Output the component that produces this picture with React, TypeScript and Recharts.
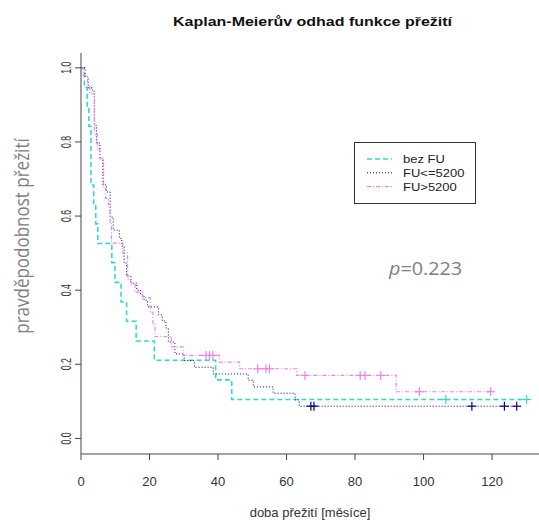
import { ComposedChart, Line, Scatter, XAxis, YAxis } from 'recharts'

// Kaplan-Meier steps per group: drop times (months), survival after each drop, censored times
const bezFuTimes = [1.0, 1.8, 2.3, 2.9, 3.7, 4.3, 4.9, 9.0, 9.9, 11.7, 13.3, 16.1, 21.4, 39.3, 44.0]
const bezFuSurv = [0.947, 0.895, 0.842, 0.684, 0.632, 0.579, 0.526, 0.474, 0.421, 0.368, 0.316, 0.263, 0.211, 0.158, 0.105]
const bezFuCensored = [106.5, 130.1]

const fuLowTimes = [
  1.2, 2.1, 3.3, 3.9, 4.5, 5.5, 6.4, 7.4, 8.5, 9.4, 11.2, 11.9, 12.6, 13.3, 14.6, 16.3,
  17.4, 18.4, 19.4, 22.6, 23.7, 24.8, 25.5, 27.4, 30.1, 33.1, 38.6, 48.8, 50.3, 56.1, 62.5, 63.7,
]
const fuLowSurv = [
  0.976, 0.946, 0.937, 0.845, 0.797, 0.756, 0.684, 0.665, 0.597, 0.562, 0.54, 0.519, 0.473, 0.438, 0.419, 0.4,
  0.387, 0.373, 0.355, 0.333, 0.317, 0.298, 0.26, 0.228, 0.21, 0.192, 0.174, 0.157, 0.139, 0.122, 0.104, 0.087,
]
const fuLowCensored = [67.1, 68.0, 114.1, 123.6, 127.2]

const fuHighTimes = [
  0.6, 1.9, 2.6, 3.9, 4.8, 5.5, 6.6, 7.2, 8.0, 8.5, 8.9, 12.2, 13.6, 14.5, 15.8, 18.0,
  20.2, 21.0, 21.6, 26.4, 29.8, 40.4, 46.3, 63.0, 92.0,
]
const fuHighSurv = [
  0.98, 0.955, 0.93, 0.82, 0.78, 0.755, 0.675, 0.648, 0.63, 0.58, 0.527, 0.5, 0.43, 0.415, 0.395, 0.38,
  0.34, 0.31, 0.275, 0.247, 0.224, 0.206, 0.188, 0.17, 0.126,
]
const fuHighCensored = [36.5, 37.5, 38.5, 51.6, 54.0, 55.0, 65.4, 81.5, 82.9, 87.5, 98.8, 119.6]

const timeTicks = [0, 20, 40, 60, 80, 100, 120]
const survTicks = [0, 0.2, 0.4, 0.6, 0.8, 1]

const groupNames = ['bez FU', 'FU<=5200', 'FU>5200']

const FONT = '"Liberation Sans", Arial, sans-serif'

type Pt = { t: number; s: number }

function stepPoints(times: number[], surv: number[], censored: number[]): Pt[] {
  const end = Math.max(...censored, times[times.length - 1])
  const pts: Pt[] = [{ t: 0, s: 1 }]
  times.forEach((t, i) => pts.push({ t, s: surv[i] }))
  pts.push({ t: end, s: surv[surv.length - 1] })
  return pts
}

function censorPoints(times: number[], surv: number[], censored: number[]): Pt[] {
  return censored.map(c => {
    let s = 1
    times.forEach((t, i) => {
      if (t <= c) s = surv[i]
    })
    return { t: c, s }
  })
}

const groups = [
  { name: groupNames[0], color: '#2FDCCB', width: 1.6, dash: '5 3', times: bezFuTimes, surv: bezFuSurv, censored: bezFuCensored },
  { name: groupNames[1], color: '#00008B', width: 1, dash: '1 2', times: fuLowTimes, surv: fuLowSurv, censored: fuLowCensored },
  { name: groupNames[2], color: '#EE82EE', width: 1.2, dash: '4 2 1 2', times: fuHighTimes, surv: fuHighSurv, censored: fuHighCensored },
]

const makeCross = (color: string) => (props: any) => {
  const { cx, cy } = props
  return (
    <g stroke={color} strokeWidth={1.2}>
      <line x1={cx - 4.5} x2={cx + 4.5} y1={cy} y2={cy} />
      <line x1={cx} x2={cx} y1={cy - 4.5} y2={cy + 4.5} />
    </g>
  )
}

const XTick = ({ x, y, payload }: any) => (
  <text x={x} y={y + 24.4} textAnchor="middle" fontSize={13} fontFamily={FONT} fill="#333">
    {payload.value}
  </text>
)

const YTick = ({ x, y, payload }: any) => (
  <text
    transform={`translate(${x - 2.3},${y}) rotate(-90) scale(0.62,1)`}
    textAnchor="middle"
    fontSize={14}
    fontFamily={FONT}
    fill="#333"
  >
    {payload.value.toFixed(1)}
  </text>
)

export default function App() {
  return (
    <div style={{ position: 'absolute', left: 0, top: 0, width: 539, height: 520, background: '#fff' }}>
      <ComposedChart width={539} height={520} margin={{ top: 53, right: 0, bottom: 0, left: 0 }}>
        <XAxis
          type="number"
          dataKey="t"
          domain={[0, 133.7]}
          ticks={timeTicks}
          tick={<XTick />}
          tickSize={6}
          height={66}
          stroke="#444"
          allowDataOverflow
        />
        <YAxis
          type="number"
          dataKey="s"
          domain={[-0.042, 1.04]}
          ticks={survTicks}
          tick={<YTick />}
          tickSize={6}
          width={81}
          stroke="#444"
          allowDataOverflow
        />
        {groups.map(g => (
          <Line
            key={g.name}
            data={stepPoints(g.times, g.surv, g.censored)}
            dataKey="s"
            type="stepAfter"
            stroke={g.color}
            strokeWidth={g.width}
            strokeDasharray={g.dash}
            dot={false}
            activeDot={false}
            isAnimationActive={false}
          />
        ))}
        {groups.map(g => (
          <Scatter
            key={g.name + '-cens'}
            data={censorPoints(g.times, g.surv, g.censored)}
            dataKey="s"
            shape={makeCross(g.color)}
            isAnimationActive={false}
          />
        ))}
      </ComposedChart>

      <svg width={539} height={520} style={{ position: 'absolute', left: 0, top: 0, pointerEvents: 'none' }}>
        <text
          transform="translate(312.5,26) scale(1,0.82)"
          textAnchor="middle"
          fontSize={16}
          fontWeight="bold"
          fontFamily={FONT}
          fill="#111"
        >
          Kaplan-Meierův odhad funkce přežití
        </text>
        <text x={310} y={517} textAnchor="middle" fontSize={13} fontFamily={FONT} fill="#333">
          doba přežití [měsíce]
        </text>
        <text
          transform="translate(29,236) rotate(-90) scale(1,1.2)"
          textAnchor="middle"
          fontSize={17}
          fontFamily='"Open Sans", sans-serif'
          fill="#808080"
        >
          pravděpodobnost přežití
        </text>
        <text
          transform="translate(389,275) scale(1.1,1)"
          fontSize={18}
          fontFamily='"Open Sans", sans-serif'
          fill="#808080"
        >
          <tspan fontStyle="italic">p</tspan>=0.223
        </text>

        <rect
          x={354.5}
          y={142.5}
          width={120.5}
          height={61}
          fill="#fff"
          stroke="#333"
          strokeWidth={1}
          shapeRendering="crispEdges"
        />
        {groups.map((g, i) => {
          const cy = 159 + i * 13.8
          return (
            <g key={g.name}>
              <line
                x1={367}
                x2={392}
                y1={cy}
                y2={cy}
                stroke={g.color}
                strokeWidth={g.width}
                strokeDasharray={g.dash}
              />
              <text
                transform={`translate(403,${cy + 4.2}) scale(1,0.88)`}
                fontSize={13}
                fontFamily={FONT}
                fill="#222"
              >
                {g.name}
              </text>
            </g>
          )
        })}
      </svg>
    </div>
  )
}
